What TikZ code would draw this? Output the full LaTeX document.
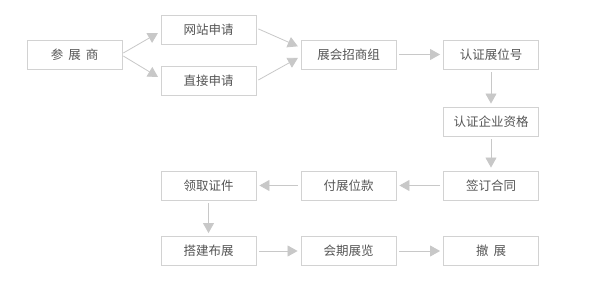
\documentclass[tikz,border=0pt]{standalone}
\usepackage{fontspec}
\newfontfamily\cjk{Noto Sans CJK SC}
\usetikzlibrary{arrows.meta,calc}
\definecolor{boxline}{HTML}{D2D2D2}
\definecolor{arrowc}{HTML}{C8C8C8}
\definecolor{txt}{HTML}{555555}
\tikzset{
  stepbox/.style={draw=boxline,line width=0.9pt,fill=white,minimum width=95pt,minimum height=29pt,inner sep=0pt,font=\cjk\fontsize{12.5}{14}\selectfont,text=txt},
  flow/.style={draw=arrowc,line width=0.8pt,-{Triangle[length=10pt,width=11pt,fill=arrowc]},shorten >=3pt,shorten <=3pt}
}
\begin{document}
\begin{tikzpicture}[x=1pt,y=-1pt]
\useasboundingbox[fill=white] (0,0) rectangle (600,283);
\node[stepbox] (can) at (74.5,54.5) {参\hspace{5pt}展\hspace{5pt}商};
\node[stepbox] (wz) at (208.5,29.5) {网站申请};
\node[stepbox] (zj) at (208.5,80.5) {直接申请};
\node[stepbox] (zh) at (348.5,54.5) {展会招商组};
\node[stepbox] (rz) at (491,54.5) {认证展位号};
\node[stepbox] (qy) at (491,121.5) {认证企业资格};
\node[stepbox] (qd) at (491,185.5) {签订合同};
\node[stepbox] (fk) at (348.5,185.5) {付展位款};
\node[stepbox] (lq) at (208.5,185.5) {领取证件};
\node[stepbox] (dj) at (208.5,251) {搭建布展};
\node[stepbox] (hq) at (348.5,251) {会期展览};
\node[stepbox] (cz) at (491,251) {撤\hspace{5pt}展};
\draw[flow,shorten <=1pt] ($(can.east)+(0,-1)$) -- ($(wz.west)+(0,2)$);
\draw[flow,shorten <=1pt] ($(can.east)+(0,1)$) -- ($(zj.west)+(0,-2)$);
\draw[flow,shorten <=1pt] ($(wz.east)+(1,-1)$) -- ($(zh.west)+(0,-7)$);
\draw[flow,shorten <=1pt] ($(zj.east)+(1,0)$) -- ($(zh.west)+(0,2)$);
\draw[flow] (zh) -- (rz);
\draw[flow] (rz) -- (qy);
\draw[flow] (qy) -- (qd);
\draw[flow] (qd) -- (fk);
\draw[flow] (fk) -- (lq);
\draw[flow] (lq) -- (dj);
\draw[flow] (dj) -- (hq);
\draw[flow] (hq) -- (cz);
\end{tikzpicture}
\end{document}
